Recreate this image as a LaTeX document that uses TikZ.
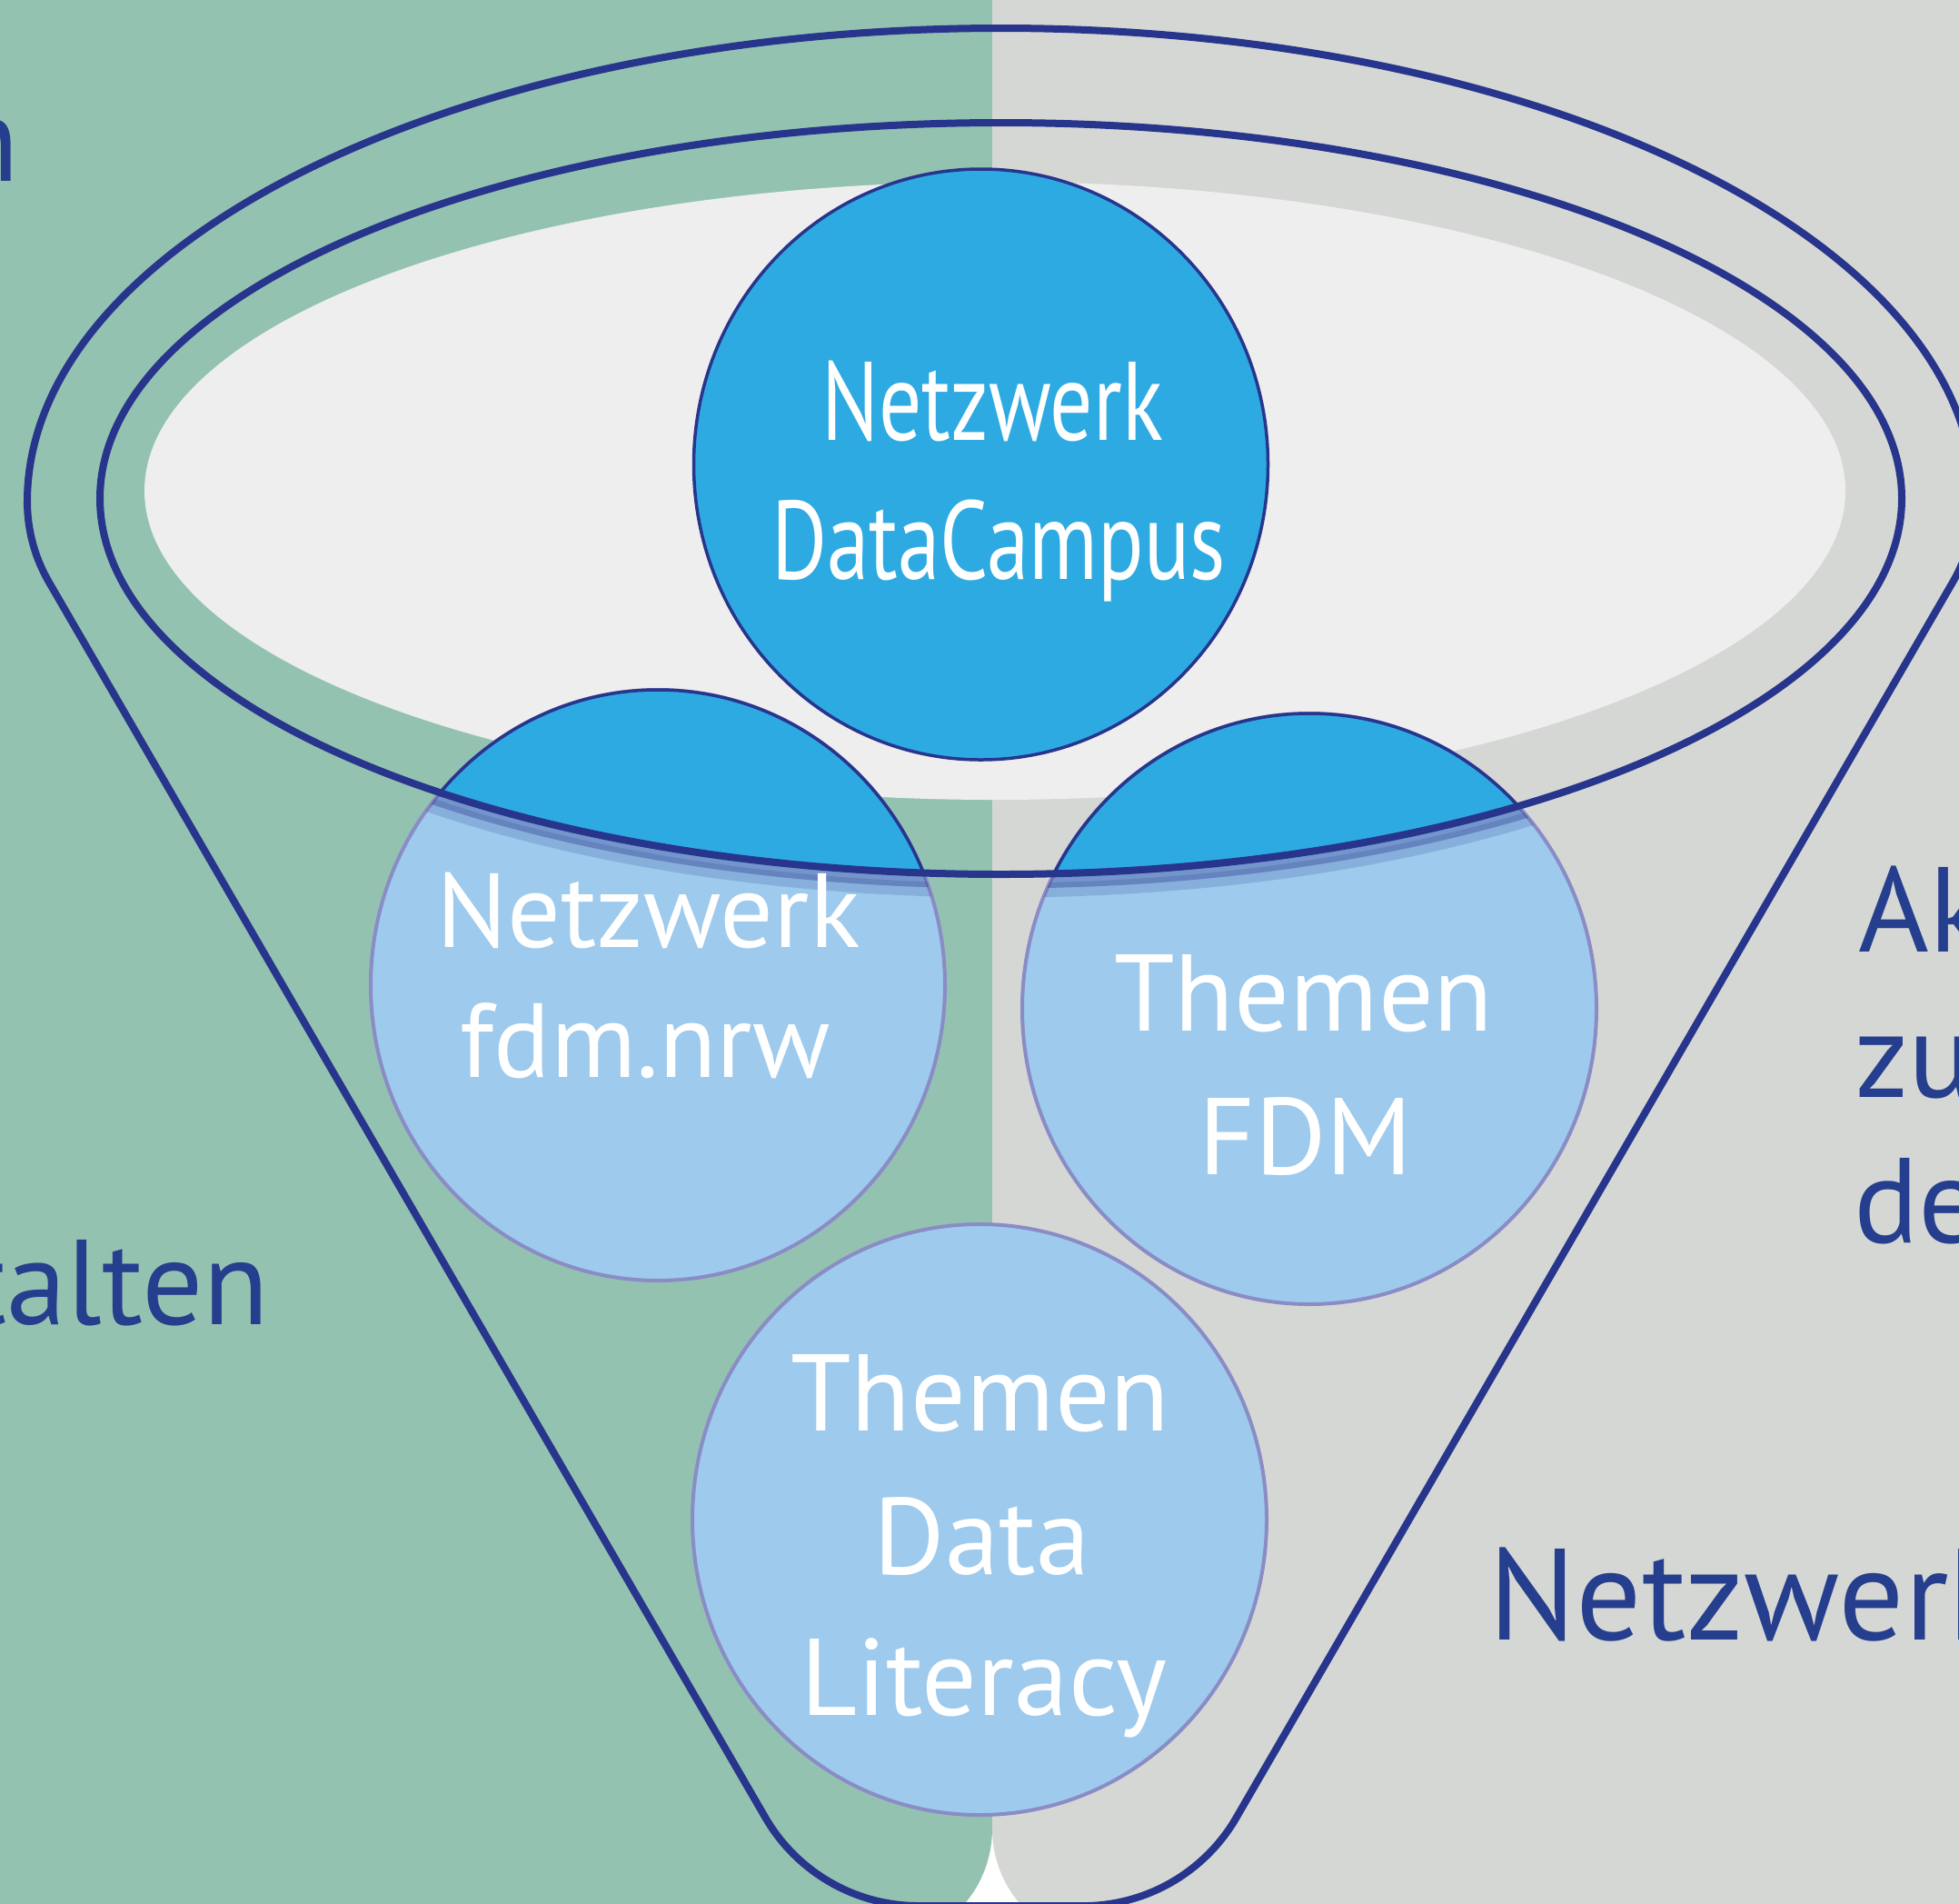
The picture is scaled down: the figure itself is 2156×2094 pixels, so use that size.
\documentclass[tikz,border=0pt]{standalone}
\usepackage{fontspec}
\setmainfont{PT Sans}
\usepackage{graphicx}
\definecolor{bggreen}{HTML}{94C2B1}
\definecolor{bggrey}{HTML}{D5D7D4}
\definecolor{lightgrey}{HTML}{EEEEEE}
\definecolor{dcblue}{HTML}{2EAAE2}
\definecolor{lightblue}{HTML}{9DCAED}
\definecolor{linedark}{HTML}{27358C}
\definecolor{circpurple}{HTML}{8A8CC6}
\definecolor{textblue}{HTML}{263E8E}
\newcommand{\fsDC}{\fontsize{61.5pt}{70pt}\selectfont}
\newcommand{\fsB}{\fontsize{58pt}{66pt}\selectfont}
\newcommand{\fsT}{\fontsize{60pt}{68pt}\selectfont}
\newcommand{\fsO}{\fontsize{66.5pt}{76pt}\selectfont}
\newcommand{\fsN}{\fontsize{71.5pt}{80pt}\selectfont}
\tikzset{
  funnelline/.style={draw=linedark, line width=4pt},
  lightcircle/.style={fill=lightblue, draw=circpurple, line width=2pt},
  darkcircle/.style={fill=dcblue, draw=linedark, line width=1.75pt},
  wtext/.style={text=white, inner sep=0pt, anchor=base},
  btext/.style={text=textblue, inner sep=0pt},
  circ/.style={x radius=316, y radius=325},
}
\begin{document}
\begin{tikzpicture}[x=0.5pt,y=-0.5pt]
\useasboundingbox (0,0) rectangle (2156,2094);
\clip (0,0) rectangle (2156,2094);
% backgrounds
\fill[bggreen] (0,0) -- (1092,0) -- (1092,2012) arc[start angle=0, end angle=90, radius=128] -- (0,2140) -- cycle;
\fill[bggrey] (1092,0) -- (2160,0) -- (2160,2140) -- (1220,2140) arc[start angle=90, end angle=180, radius=128] -- cycle;
% light inner ellipse
\fill[lightgrey] (1095,540) ellipse [x radius=936, y radius=340];
% circle centres
\coordinate (dcC) at (1079.5,511);
\coordinate (fdmC) at (724,1084);
\coordinate (FDMC) at (1441,1110);
\coordinate (litC) at (1078,1672);
% circles
\path[darkcircle] (dcC) ellipse [circ];
\path[lightcircle] (fdmC) ellipse [circ];
\path[lightcircle] (FDMC) ellipse [circ];
\path[lightcircle] (litC) ellipse [circ];
% parts inside the funnel opening
\begin{scope}
  \clip (1101.5,548.5) ellipse [x radius=991.5, y radius=413.5];
  \path[darkcircle] (fdmC) ellipse [circ];
  \path[darkcircle] (FDMC) ellipse [circ];
\end{scope}
% shadow of the rim on the circles
\begin{scope}
  \clip (fdmC) ellipse [circ] (FDMC) ellipse [circ];
  \draw[linedark, line width=7pt, opacity=0.35] (1101.5,557) ellipse [x radius=991.5, y radius=413.5];
  \draw[linedark, line width=8pt, opacity=0.18] (1101.5,566) ellipse [x radius=991.5, y radius=413.5];
\end{scope}
% funnel outline
\draw[funnelline] (30,552) arc[start angle=180, end angle=360, x radius=1071.5, y radius=521]
  arc[start angle=0, end angle=30, radius=176]
  -- (1360.6,2000)
  arc[start angle=30.1, end angle=90, radius=194.7]
  -- (1010.8,2097)
  arc[start angle=90, end angle=149.9, radius=194.7]
  -- (53.6,640)
  arc[start angle=150, end angle=180, radius=176]
  -- cycle;
% rim
\draw[funnelline] (1101.5,548.5) ellipse [x radius=991.5, y radius=413.5];
% circle texts
\node[wtext] (dct1) at (1092,484) {\fsDC\scalebox{0.76}[1]{Netzwerk}};
\node[wtext] (dct2) at (1099,637) {\fsDC\scalebox{0.76}[1]{DataCampus}};
\node[wtext] (fdmt1) at (713.5,1042) {\fsB Netzwerk};
\node[wtext] (fdmt2) at (710,1185) {\fsB fdm.nrw};
\node[wtext] (FDMt1) at (1435,1134) {\fsT Themen};
\node[wtext] (FDMt2) at (1437,1292) {\fsT FDM};
\node[wtext] (litt1) at (1079,1574) {\fsT Themen};
\node[wtext] (litt2) at (1081,1732) {\fsT Data};
\node[wtext] (litt3) at (1083,1887) {\fsT Literacy};
% outer texts
\node[btext, anchor=base east] (tn) at (22,199) {\fsO n};
\node[btext, anchor=base east] (tt) at (297,1457) {\fsO talten};
\node[btext, anchor=base west] (tak) at (2045,1047) {\fsO Ak};
\node[btext, anchor=base west] (tzu) at (2041,1207) {\fsO zu};
\node[btext, anchor=base west] (tde) at (2040,1367) {\fsO de};
\node[btext, anchor=base west] (tnw) at (1638,1804) {\fsN Netzwerk};
\end{tikzpicture}
\end{document}
